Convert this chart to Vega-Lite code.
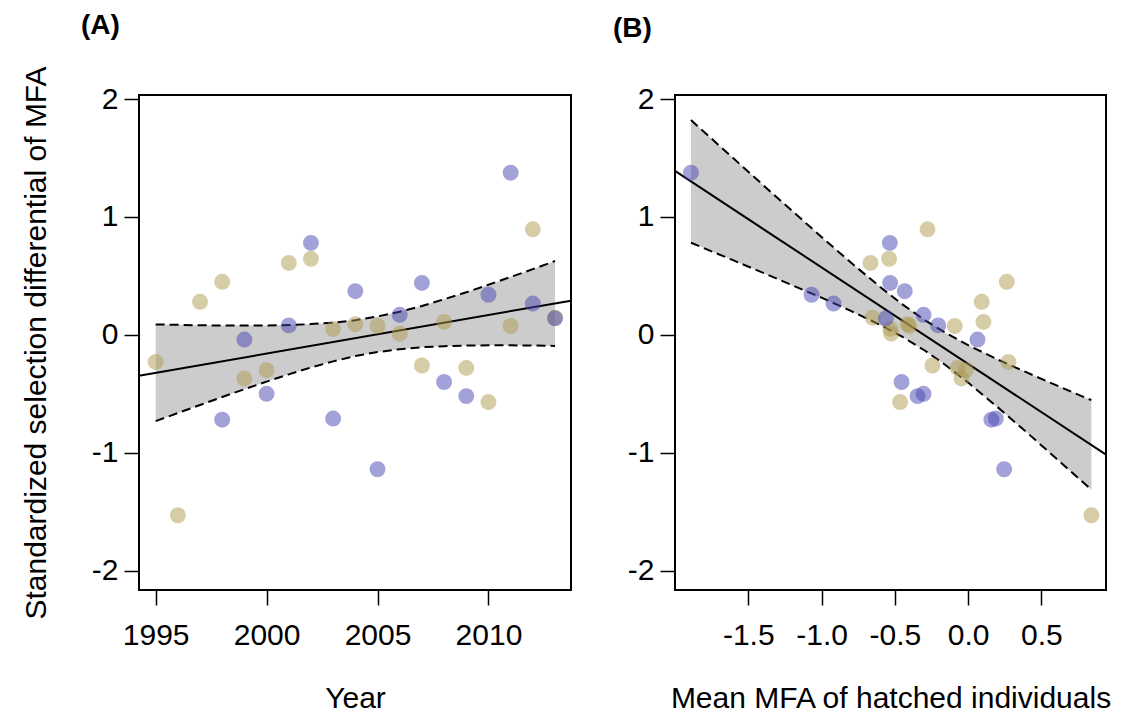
{
  "$schema": "https://vega.github.io/schema/vega-lite/v6.json",
  "background": "white",
  "padding": {"left": 20, "top": 10, "right": 5, "bottom": 5},
  "spacing": 104,
  "bounds": "flush",
  "datasets": {
    "pts": [
      {"year": 1995, "grp": "tan", "sel": -0.23, "mfa": 0.275},
      {"year": 1996, "grp": "tan", "sel": -1.53, "mfa": 0.841},
      {"year": 1997, "grp": "tan", "sel": 0.28, "mfa": 0.093},
      {"year": 1998, "grp": "tan", "sel": 0.45, "mfa": 0.264},
      {"year": 1998, "grp": "blue", "sel": -0.72, "mfa": 0.159},
      {"year": 1999, "grp": "tan", "sel": -0.37, "mfa": -0.045},
      {"year": 1999, "grp": "blue", "sel": -0.04, "mfa": 0.064},
      {"year": 2000, "grp": "tan", "sel": -0.30, "mfa": -0.016},
      {"year": 2000, "grp": "blue", "sel": -0.50, "mfa": -0.304},
      {"year": 2001, "grp": "tan", "sel": 0.61, "mfa": -0.666},
      {"year": 2001, "grp": "blue", "sel": 0.08, "mfa": -0.204},
      {"year": 2002, "grp": "tan", "sel": 0.645, "mfa": -0.539},
      {"year": 2002, "grp": "blue", "sel": 0.78, "mfa": -0.534},
      {"year": 2003, "grp": "tan", "sel": 0.05, "mfa": -0.53},
      {"year": 2003, "grp": "blue", "sel": -0.71, "mfa": 0.189},
      {"year": 2004, "grp": "tan", "sel": 0.09, "mfa": -0.413},
      {"year": 2004, "grp": "blue", "sel": 0.37, "mfa": -0.432},
      {"year": 2005, "grp": "tan", "sel": 0.075, "mfa": -0.40},
      {"year": 2005, "grp": "blue", "sel": -1.14, "mfa": 0.246},
      {"year": 2006, "grp": "tan", "sel": 0.01, "mfa": -0.525},
      {"year": 2006, "grp": "blue", "sel": 0.17, "mfa": -0.304},
      {"year": 2007, "grp": "tan", "sel": -0.26, "mfa": -0.243},
      {"year": 2007, "grp": "blue", "sel": 0.44, "mfa": -0.532},
      {"year": 2008, "grp": "tan", "sel": 0.11, "mfa": 0.105},
      {"year": 2008, "grp": "blue", "sel": -0.40, "mfa": -0.454},
      {"year": 2009, "grp": "tan", "sel": -0.28, "mfa": -0.072},
      {"year": 2009, "grp": "blue", "sel": -0.52, "mfa": -0.345},
      {"year": 2010, "grp": "tan", "sel": -0.57, "mfa": -0.464},
      {"year": 2010, "grp": "blue", "sel": 0.34, "mfa": -1.068},
      {"year": 2011, "grp": "tan", "sel": 0.075, "mfa": -0.091},
      {"year": 2011, "grp": "blue", "sel": 1.375, "mfa": -1.891},
      {"year": 2012, "grp": "tan", "sel": 0.895, "mfa": -0.277},
      {"year": 2012, "grp": "blue", "sel": 0.265, "mfa": -0.918},
      {"year": 2013, "grp": "tan", "sel": 0.145, "mfa": -0.652},
      {"year": 2013, "grp": "blue", "sel": 0.14, "mfa": -0.561}
    ],
    "lineA": [
      {"x": 1994.25, "y": -0.347},
      {"x": 2013.72, "y": 0.29}
    ],
    "bandA": [
      {"x": 1995, "lo": -0.732, "hi": 0.088},
      {"x": 1996, "lo": -0.663, "hi": 0.085},
      {"x": 1997, "lo": -0.595, "hi": 0.081},
      {"x": 1998, "lo": -0.527, "hi": 0.079},
      {"x": 1999, "lo": -0.461, "hi": 0.079},
      {"x": 2000, "lo": -0.397, "hi": 0.079},
      {"x": 2001, "lo": -0.335, "hi": 0.083},
      {"x": 2002, "lo": -0.277, "hi": 0.091},
      {"x": 2003, "lo": -0.225, "hi": 0.103},
      {"x": 2004, "lo": -0.180, "hi": 0.124},
      {"x": 2005, "lo": -0.146, "hi": 0.156},
      {"x": 2006, "lo": -0.122, "hi": 0.196},
      {"x": 2007, "lo": -0.105, "hi": 0.245},
      {"x": 2008, "lo": -0.096, "hi": 0.302},
      {"x": 2009, "lo": -0.091, "hi": 0.361},
      {"x": 2010, "lo": -0.089, "hi": 0.425},
      {"x": 2011, "lo": -0.089, "hi": 0.491},
      {"x": 2012, "lo": -0.091, "hi": 0.557},
      {"x": 2013, "lo": -0.094, "hi": 0.626}
    ],
    "lineB": [
      {"x": -2.0, "y": 1.39},
      {"x": 0.941, "y": -1.016}
    ],
    "bandB": [
      {"x": -1.891, "lo": 0.781, "hi": 1.821},
      {"x": -1.6, "lo": 0.631, "hi": 1.495},
      {"x": -1.3, "lo": 0.474, "hi": 1.160},
      {"x": -1.0, "lo": 0.315, "hi": 0.830},
      {"x": -0.8, "lo": 0.203, "hi": 0.613},
      {"x": -0.6, "lo": 0.084, "hi": 0.406},
      {"x": -0.45, "lo": -0.016, "hi": 0.260},
      {"x": -0.293, "lo": -0.135, "hi": 0.123},
      {"x": -0.15, "lo": -0.260, "hi": 0.014},
      {"x": 0.0, "lo": -0.405, "hi": -0.088},
      {"x": 0.2, "lo": -0.612, "hi": -0.208},
      {"x": 0.4, "lo": -0.827, "hi": -0.319},
      {"x": 0.6, "lo": -1.047, "hi": -0.427},
      {"x": 0.841, "lo": -1.314, "hi": -0.554}
    ]
  },
  "hconcat": [
    {
      "width": 432,
      "height": 495,
      "title": {"text": "(A)", "anchor": "start", "frame": "group", "dx": -58, "offset": 4, "baseline": "alphabetic", "fontSize": 28, "font": "Liberation Sans", "fontWeight": "bold", "color": "black"},
      "layer": [
        {
          "data": {"name": "bandA"},
          "mark": {"type": "area", "color": "#cccccc", "opacity": 1},
          "encoding": {
            "x": {"field": "x", "type": "quantitative", "scale": {"domain": [1994.25, 2013.72], "nice": false, "zero": false},
                  "axis": {"title": "Year", "values": [1995, 2000, 2005, 2010], "format": "d"}},
            "y": {"field": "lo", "type": "quantitative", "scale": {"domain": [-2.164, 2.034], "nice": false, "zero": false},
                  "axis": {"title": "Standardized selection differential of MFA", "values": [-2, -1, 0, 1, 2], "labelExpr": "replace(format(datum.value, 'd'), '\u2212', '-')"}},
            "y2": {"field": "hi"}
          }
        },
        {
          "data": {"name": "bandA"},
          "mark": {"type": "line", "color": "black", "strokeWidth": 2, "strokeDash": [9, 5]},
          "encoding": {"x": {"field": "x", "type": "quantitative"}, "y": {"field": "lo", "type": "quantitative"}}
        },
        {
          "data": {"name": "bandA"},
          "mark": {"type": "line", "color": "black", "strokeWidth": 2, "strokeDash": [9, 5]},
          "encoding": {"x": {"field": "x", "type": "quantitative"}, "y": {"field": "hi", "type": "quantitative"}}
        },
        {
          "data": {"name": "lineA"},
          "mark": {"type": "line", "color": "black", "strokeWidth": 2},
          "encoding": {"x": {"field": "x", "type": "quantitative"}, "y": {"field": "y", "type": "quantitative"}}
        },
        {
          "data": {"name": "pts"},
          "mark": {"type": "circle", "size": 254, "opacity": 0.5},
          "encoding": {
            "x": {"field": "year", "type": "quantitative"},
            "y": {"field": "sel", "type": "quantitative"},
            "color": {"field": "grp", "type": "nominal", "scale": {"domain": ["tan", "blue"], "range": ["#ae9a4e", "#4646b4"]}, "legend": null}
          }
        }
      ]
    },
    {
      "width": 431,
      "height": 495,
      "title": {"text": "(B)", "anchor": "start", "frame": "group", "dx": -62, "offset": 19, "baseline": "alphabetic", "fontSize": 28, "font": "Liberation Sans", "fontWeight": "bold", "color": "black"},
      "layer": [
        {
          "data": {"name": "bandB"},
          "mark": {"type": "area", "color": "#cccccc", "opacity": 1},
          "encoding": {
            "x": {"field": "x", "type": "quantitative", "scale": {"domain": [-2.0, 0.941], "nice": false, "zero": false},
                  "axis": {"title": "Mean MFA of hatched individuals", "values": [-1.5, -1.0, -0.5, 0, 0.5], "labelExpr": "replace(format(datum.value, '.1f'), '\u2212', '-')"}},
            "y": {"field": "lo", "type": "quantitative", "scale": {"domain": [-2.164, 2.034], "nice": false, "zero": false},
                  "axis": {"title": null, "values": [-2, -1, 0, 1, 2], "labelExpr": "replace(format(datum.value, 'd'), '\u2212', '-')"}},
            "y2": {"field": "hi"}
          }
        },
        {
          "data": {"name": "bandB"},
          "mark": {"type": "line", "color": "black", "strokeWidth": 2, "strokeDash": [9, 5]},
          "encoding": {"x": {"field": "x", "type": "quantitative"}, "y": {"field": "lo", "type": "quantitative"}}
        },
        {
          "data": {"name": "bandB"},
          "mark": {"type": "line", "color": "black", "strokeWidth": 2, "strokeDash": [9, 5]},
          "encoding": {"x": {"field": "x", "type": "quantitative"}, "y": {"field": "hi", "type": "quantitative"}}
        },
        {
          "data": {"name": "lineB"},
          "mark": {"type": "line", "color": "black", "strokeWidth": 2},
          "encoding": {"x": {"field": "x", "type": "quantitative"}, "y": {"field": "y", "type": "quantitative"}}
        },
        {
          "data": {"name": "pts"},
          "mark": {"type": "circle", "size": 254, "opacity": 0.5},
          "encoding": {
            "x": {"field": "mfa", "type": "quantitative"},
            "y": {"field": "sel", "type": "quantitative"},
            "color": {"field": "grp", "type": "nominal", "scale": {"domain": ["tan", "blue"], "range": ["#ae9a4e", "#4646b4"]}, "legend": null}
          }
        }
      ]
    }
  ],
  "resolve": {"scale": {"x": "independent", "y": "independent", "color": "shared"}},
  "config": {
    "font": "Liberation Sans",
    "view": {"stroke": "black", "strokeWidth": 2},
    "axis": {
      "domain": false,
      "grid": false,
      "ticks": true,
      "tickColor": "black",
      "tickSize": 15,
      "tickWidth": 1.5,
      "labelFont": "Liberation Sans",
      "labelFontSize": 30,
      "labelColor": "black",
      "labelOverlap": false,
      "titleFont": "Liberation Sans",
      "titleFontSize": 30,
      "titleFontWeight": "normal",
      "titleColor": "black"
    },
    "axisX": {"labelPadding": 15, "titlePadding": 33},
    "axisY": {"titlePadding": 40, "labelPadding": 6}
  }
}
